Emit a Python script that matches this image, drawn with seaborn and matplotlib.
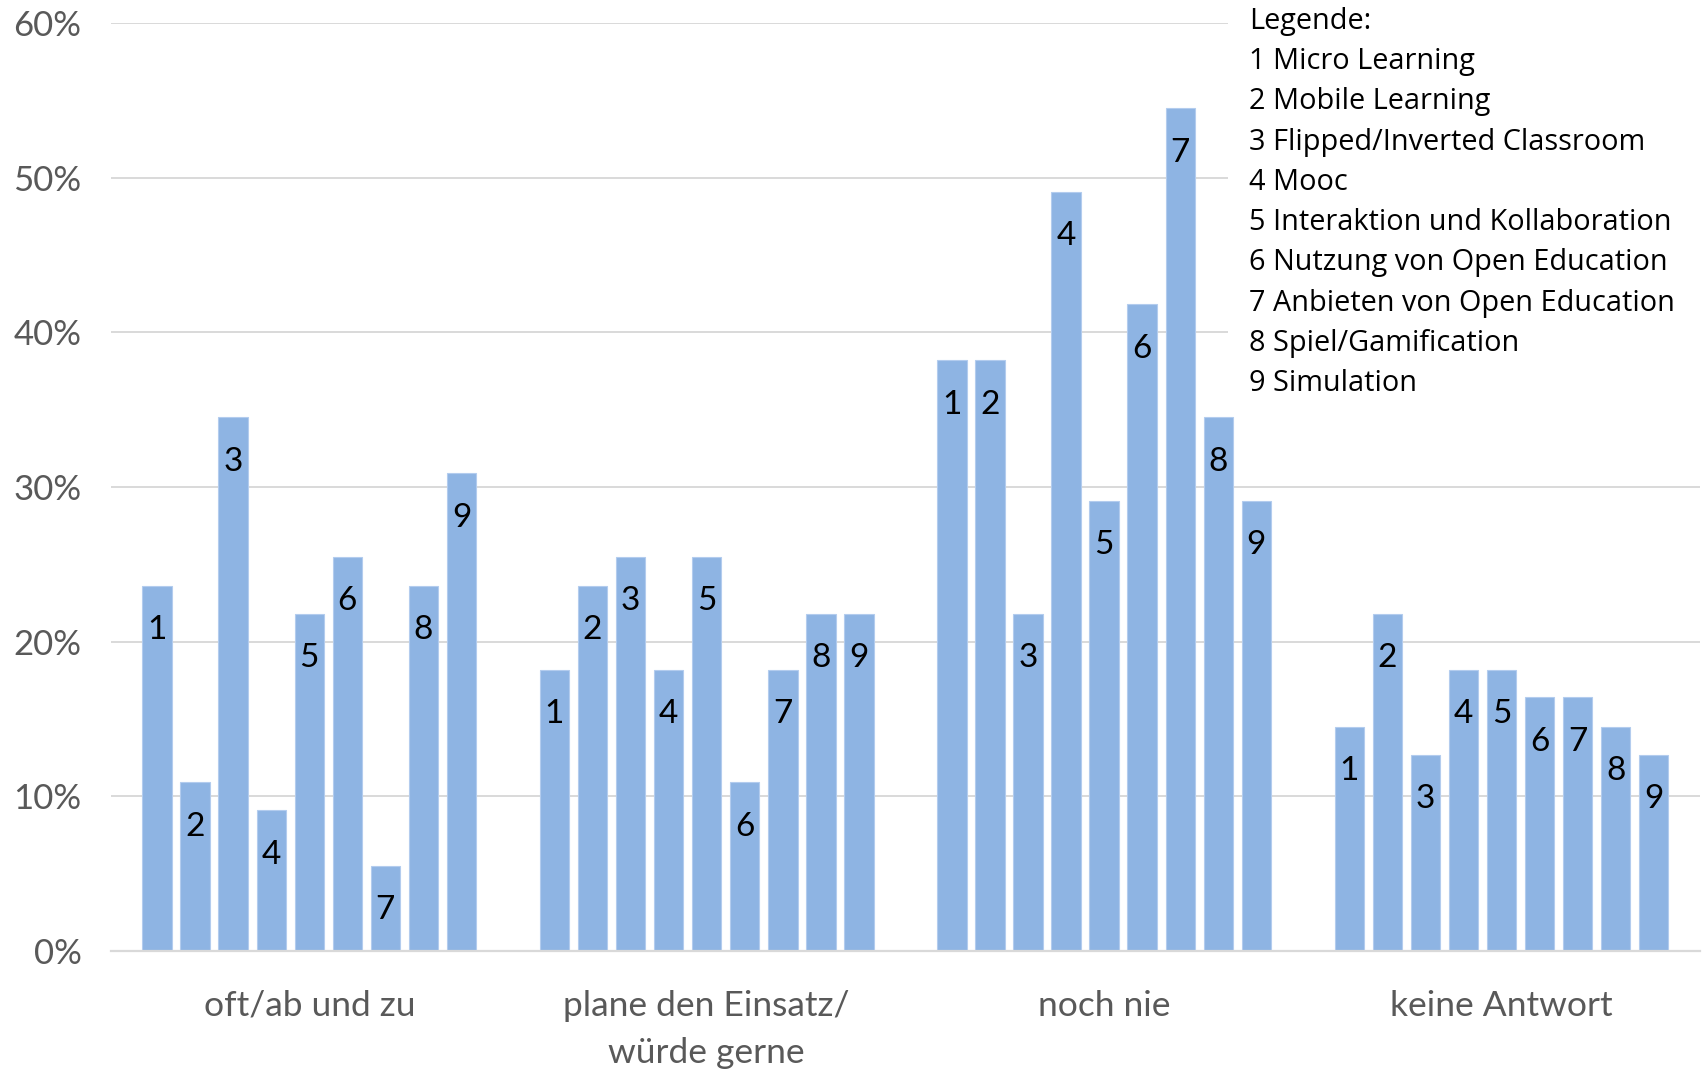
import matplotlib
matplotlib.use("Agg")
import matplotlib.pyplot as plt
import seaborn as sns
import pandas as pd
from matplotlib.patches import Rectangle
from matplotlib.ticker import FixedLocator, FuncFormatter

# Antwortkategorien (x-Achse)
kategorien = ["oft/ab und zu", "plane den Einsatz/\nwürde gerne", "noch nie", "keine Antwort"]

# Nummern der Lehr-/Lernformen
nummern = ["1", "2", "3", "4", "5", "6", "7", "8", "9"]

# Anteile in Prozent je Kategorie, Reihenfolge 1..9
oft_ab_und_zu = [23.6, 10.9, 34.5, 9.1, 21.8, 25.5, 5.5, 23.6, 30.9]
plane_einsatz = [18.2, 23.6, 25.5, 18.2, 25.5, 10.9, 18.2, 21.8, 21.8]
noch_nie = [38.2, 38.2, 21.8, 49.1, 29.1, 41.8, 54.5, 34.5, 29.1]
keine_antwort = [14.5, 21.8, 12.7, 18.2, 18.2, 16.4, 16.4, 14.5, 12.7]

legende_titel = "Legende:"
legende_eintraege = [
    "1 Micro Learning",
    "2 Mobile Learning",
    "3 Flipped/Inverted Classroom",
    "4 Mooc",
    "5 Interaktion und Kollaboration",
    "6 Nutzung von Open Education",
    "7 Anbieten von Open Education",
    "8 Spiel/Gamification",
    "9 Simulation",
]

y_ticks = [0, 10, 20, 30, 40, 50, 60]

BAR = "#8EB4E3"
GRID = "#D9D9D9"
TXT = "#595959"

rows = []
for kat, werte in zip(kategorien, [oft_ab_und_zu, plane_einsatz, noch_nie, keine_antwort]):
    for nr, w in zip(nummern, werte):
        rows.append({"Kategorie": kat, "Nr": nr, "Anteil": w})
df = pd.DataFrame(rows)

sns.set_theme(style="white")
plt.rcParams["font.family"] = ["Lato", "DejaVu Sans"]

W, H = 1707, 1069
fig = plt.figure(figsize=(W / 100, H / 100), dpi=100)
ax = fig.add_axes([110.6 / W, 118 / H, 1589.6 / W, 928 / H])

sns.barplot(
    data=df, x="Kategorie", y="Anteil", hue="Nr",
    order=kategorien, hue_order=nummern,
    palette=[BAR] * len(nummern), saturation=1,
    width=0.862, gap=0.227, legend=False, ax=ax,
    edgecolor="#B3CCEE", linewidth=0.8,
)

# Nummern in die Balken schreiben
for nr_idx, cont in enumerate(ax.containers):
    for bar in cont:
        x = bar.get_x() + bar.get_width() / 2
        h = bar.get_height()
        ax.annotate(nummern[nr_idx], (x, h), xytext=(0, -32), textcoords="offset points",
                    ha="center", va="center", fontsize=24, color="black")

ax.set_xlim(-0.5, 3.5)
ax.set_ylim(0, 60)
ax.yaxis.set_major_locator(FixedLocator(y_ticks))
ax.yaxis.set_major_formatter(FuncFormatter(lambda v, p: f"{v:.0f}%"))
ax.grid(axis="y", color=GRID, linewidth=1.4)
ax.grid(axis="x", visible=False)
ax.set_axisbelow(True)
for s in ["top", "right", "left"]:
    ax.spines[s].set_visible(False)
ax.spines["bottom"].set_color(GRID)
ax.spines["bottom"].set_linewidth(1.6)
ax.set_xlabel("")
ax.set_ylabel("")
ax.tick_params(axis="y", length=0, pad=21, labelsize=25, labelcolor=TXT)
ax.tick_params(axis="x", length=0, pad=28, labelsize=25.5, labelcolor=TXT)
for lab in ax.get_xticklabels():
    lab.set_linespacing(1.58)

# Weißer Hintergrund hinter der Legende (verdeckt die Gitterlinien)
fig.patches.append(Rectangle((1228 / W, 1 - 405 / H), 1 - 1228 / W, 405 / H,
                             transform=fig.transFigure, facecolor="white",
                             edgecolor="none", zorder=4))

# Legende als Textblock
fig.text(1249 / W, 1 - 7 / H, "\n".join([legende_titel] + legende_eintraege),
         ha="left", va="top", fontsize=20.8, family=["Open Sans", "DejaVu Sans"],
         color="black", linespacing=1.51, zorder=5)

fig.savefig("out.png", dpi=100)
